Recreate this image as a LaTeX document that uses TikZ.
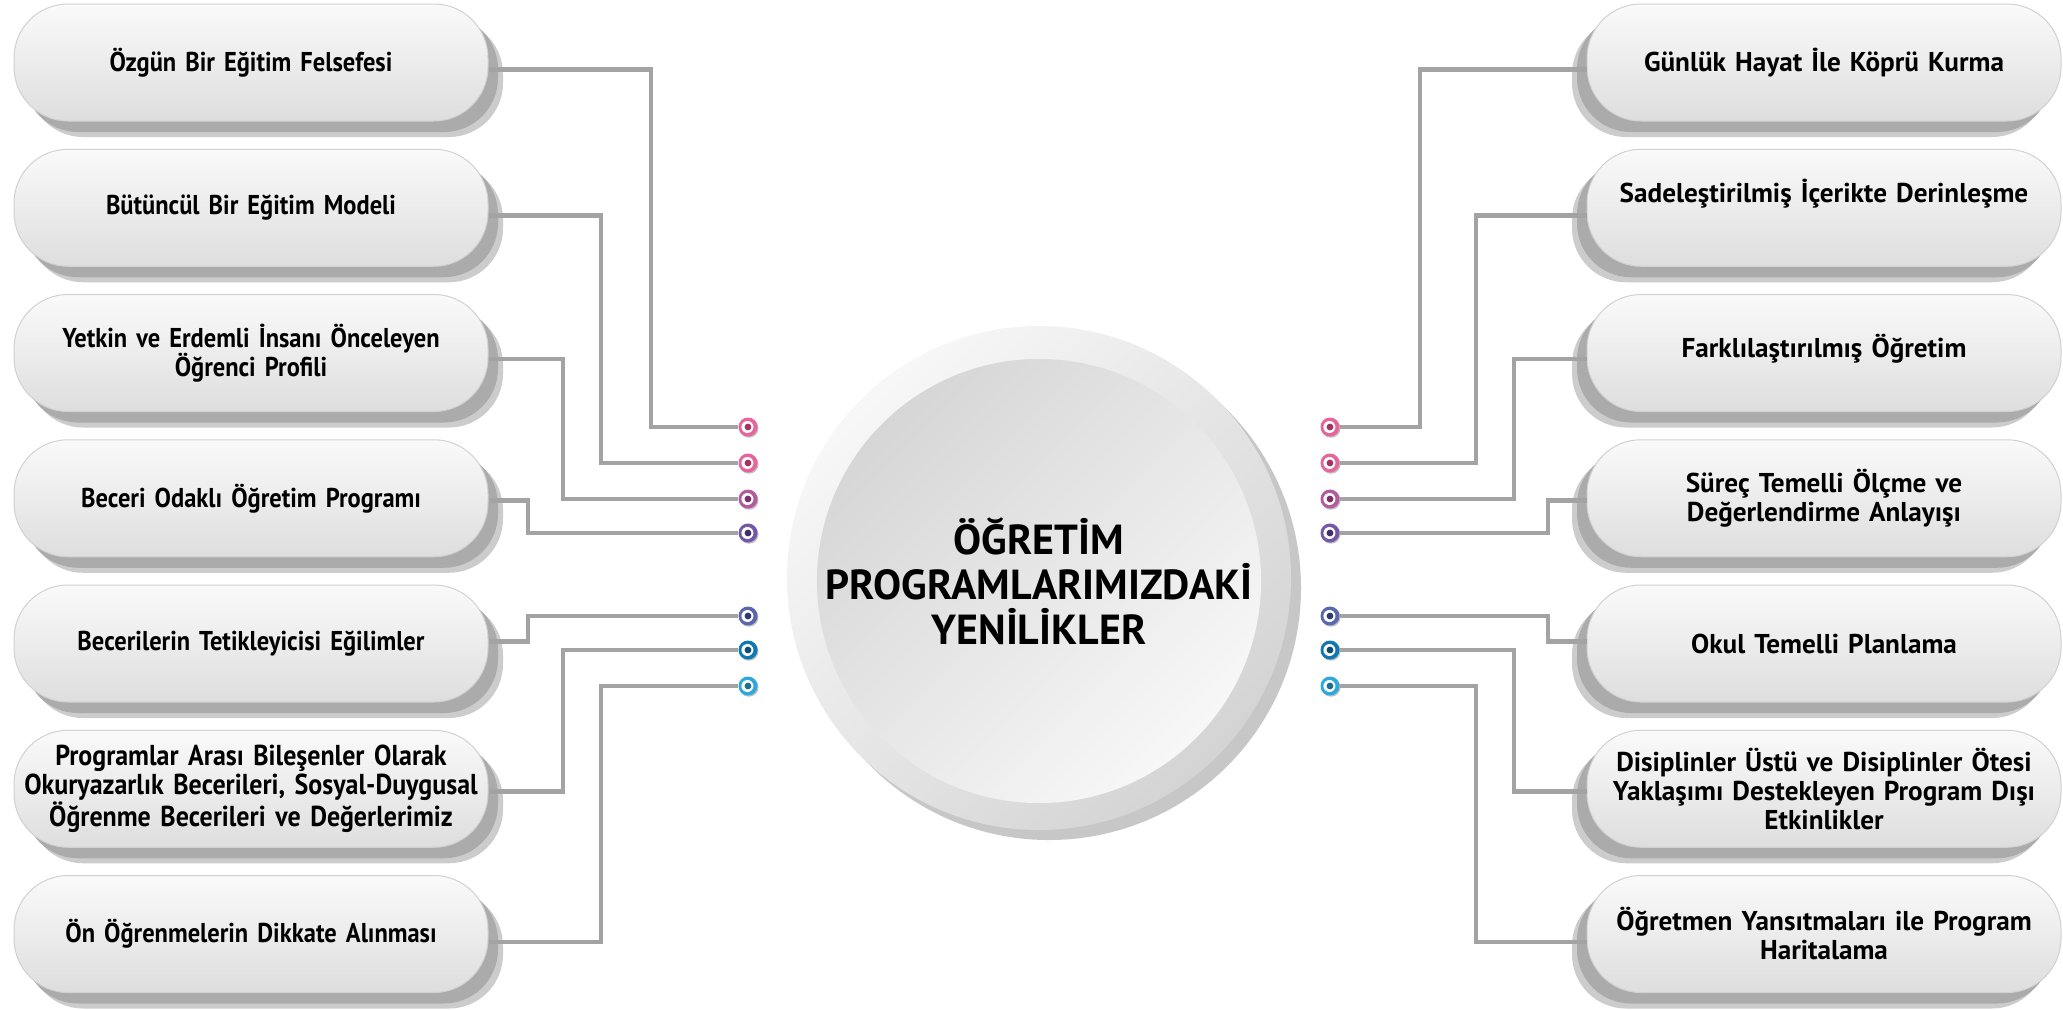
\documentclass[tikz,border=0pt]{standalone}
\usepackage{fontspec}
\setmainfont{PT Sans}
\newfontfamily\narrowsans{PT Sans}[FakeStretch=0.9]
\usetikzlibrary{shadows}

\definecolor{wiregray}{HTML}{A3A3A3}
\definecolor{pinkout}{HTML}{E8659B}  \definecolor{pinkin}{HTML}{A3345F}
\definecolor{mauveout}{HTML}{B35B9D} \definecolor{mauvein}{HTML}{7E2E6B}
\definecolor{purpout}{HTML}{7457A8}  \definecolor{purpin}{HTML}{3F2D6E}
\definecolor{indout}{HTML}{5A66AE}   \definecolor{indin}{HTML}{2E3A74}
\definecolor{bluedout}{HTML}{0C79B6} \definecolor{bluedin}{HTML}{0D4D73}
\definecolor{bluelout}{HTML}{2CA8DF} \definecolor{bluelin}{HTML}{1D6E8F}

\tikzset{
  card/.style={rounded corners=27pt, minimum width=237pt, minimum height=58.5pt,
    inner sep=0pt, draw=black!18, line width=0.5pt, top color=black!2,
    bottom color=black!13, align=center, text width=234pt},
  lcard/.style={card, font={\narrowsans\bfseries\fontsize{13.6}{14.5}\selectfont\spaceskip=0.18em plus 0.05em\relax},
    drop shadow={shadow xshift=7.5pt, shadow yshift=-8pt, fill=black!20, opacity=1},
    drop shadow={shadow xshift=5pt, shadow yshift=-5.5pt, fill=black!33, opacity=1}},
  rcard/.style={card, font={\bfseries\fontsize{13.6}{14.5}\selectfont\spaceskip=0.18em plus 0.05em\relax},
    drop shadow={shadow xshift=-7.5pt, shadow yshift=-8pt, fill=black!20, opacity=1},
    drop shadow={shadow xshift=-5pt, shadow yshift=-5.5pt, fill=black!33, opacity=1}},
  wire/.style={draw=wiregray, line width=2.3pt},
  pin/.style={circle, inner sep=0pt, minimum size=9.5pt, fill=#1,
    drop shadow={shadow xshift=0.5pt, shadow yshift=-0.6pt, fill=black!25, opacity=1}},
  pinring/.style={circle, inner sep=0pt, minimum size=6pt, fill=white},
  pincore/.style={circle, inner sep=0pt, minimum size=3.4pt, fill=#1},
}

\begin{document}
\begin{tikzpicture}[x=0.5pt, y=-0.5pt]
  \useasboundingbox[fill=white] (0,0) rectangle (2063,1009);

  % centre button
  \node[circle, minimum size=252pt, inner sep=0pt, top color=black!3, bottom color=black!17,
    shading angle=45, drop shadow={shadow xshift=5pt, shadow yshift=-5pt, fill=black!22, opacity=1}]
    (rim) at (1039,578) {};
  \node[circle, minimum size=216pt, inner sep=0pt, top color=black!16, bottom color=black!3,
    shading angle=45, align=center, font=\bfseries\fontsize{21}{22.5}\selectfont]
    (hub) at (1039,581) {ÖĞRETİM\\PROGRAMLARIMIZDAKİ\\YENİLİKLER};

  % left cards
  \node[lcard] (L1) at (251,62.5)  {Özgün Bir Eğitim Felsefesi};
  \node[lcard] (L2) at (251,207.75) {Bütüncül Bir Eğitim Modeli};
  \node[lcard] (L3) at (251,353)   {Yetkin ve Erdemli İnsanı Önceleyen\\Öğrenci Profili};
  \node[lcard] (L4) at (251,498.25) {Beceri Odaklı Öğretim Programı};
  \node[lcard] (L5) at (251,643.5) {Becerilerin Tetikleyicisi Eğilimler};
  \node[lcard, font={\narrowsans\bfseries\fontsize{14.4}{14.5}\selectfont\spaceskip=0.18em\relax}] (L6) at (251,788.75)
    {Programlar Arası Bileşenler Olarak\\Okuryazarlık Becerileri, Sosyal-Duygusal\\Öğrenme Becerileri ve Değerlerimiz};
  \node[lcard] (L7) at (251,934)   {Ön Öğrenmelerin Dikkate Alınması};

  % right cards
  \node[rcard] (R1) at (1824,62.5)  {Günlük Hayat İle Köprü Kurma};
  \node[rcard] (R2) at (1824,207.75) {\raisebox{17pt}{Sadeleştirilmiş İçerikte Derinleşme}};
  \node[rcard] (R3) at (1824,353)   {\raisebox{7pt}{Farklılaştırılmış Öğretim}};
  \node[rcard] (R4) at (1824,498.25) {Süreç Temelli Ölçme ve\\Değerlendirme Anlayışı};
  \node[rcard] (R5) at (1824,643.5) {Okul Temelli Planlama};
  \node[rcard] (R6) at (1824,788.75) {Disiplinler Üstü ve Disiplinler Ötesi\\Yaklaşımı Destekleyen Program Dışı\\Etkinlikler};
  \node[rcard] (R7) at (1824,934)   {Öğretmen Yansıtmaları ile Program\\Haritalama};

  % pins
  \foreach \i/\y/\c in {1/427/pink, 2/463/pink, 3/499/mauve, 4/533/purp,
                        5/616/ind, 6/650/blued, 7/686/bluel} {
    \node[pin=\c out] (l\i) at (748,\y) {};
    \node[pin=\c out] (r\i) at (1330,\y) {};
  }

  % wires
  \foreach \i/\dl/\dr/\dy in {1/48.5/45/-3.5, 2/73.5/73/-4, 3/92.5/92/-3, 4/110/109/-1,
                              5/110/109/1, 6/92.5/92/-1.5, 7/73.5/73/-4} {
    \draw[wire] ([yshift=\dy pt]L\i.east) -| ([xshift=-\dl pt]l\i.center) -- (l\i.west);
    \draw[wire] ([yshift=\dy pt]R\i.west) -| ([xshift=\dr pt]r\i.center) -- (r\i.east);
  }

  % pin centres
  \foreach \i/\c in {1/pink, 2/pink, 3/mauve, 4/purp, 5/ind, 6/blued, 7/bluel} {
    \node[pinring] (lw\i) at ([xshift=-0.3pt]l\i.center) {};
    \node[pincore=\c in] (lc\i) at (l\i.center) {};
    \node[pinring] (rw\i) at ([xshift=-0.3pt]r\i.center) {};
    \node[pincore=\c in] (rc\i) at (r\i.center) {};
  }
\end{tikzpicture}
\end{document}
